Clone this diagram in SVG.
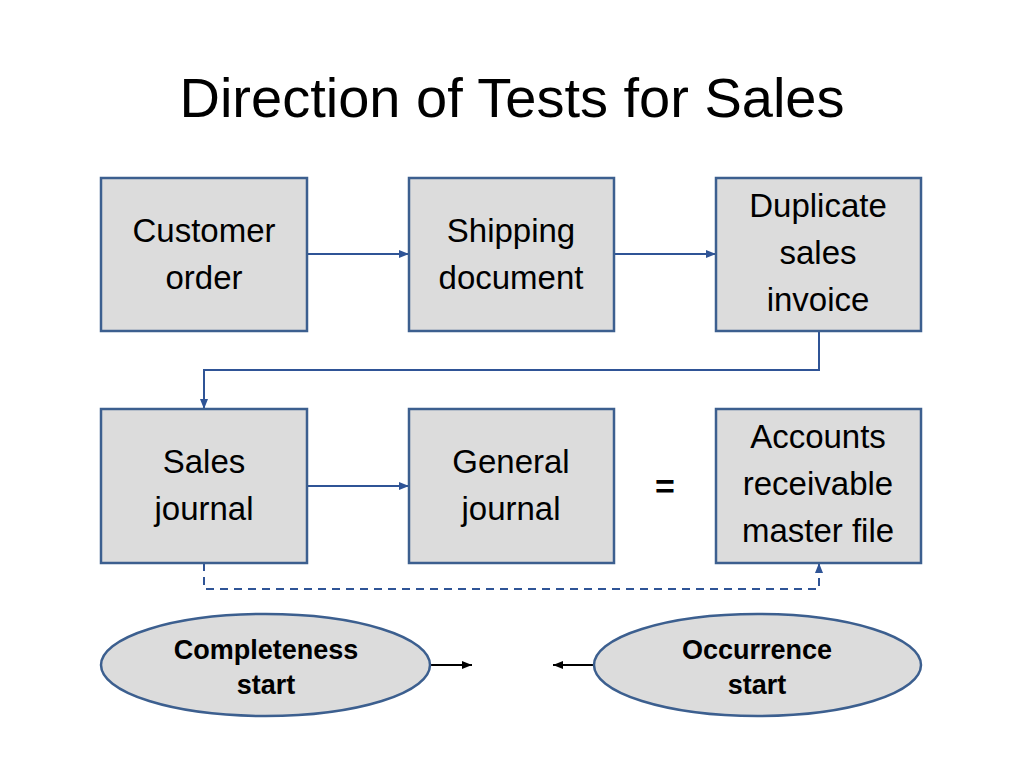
<svg xmlns="http://www.w3.org/2000/svg" width="1024" height="768" viewBox="0 0 1024 768">
<defs>
<style>
.box{fill:#dcdcdc;stroke:#3c5f8f;stroke-width:2.5}
.t{font-family:"Liberation Sans",Arial,sans-serif;font-size:33px;fill:#000;text-anchor:middle}
.b{font-family:"Liberation Sans",Arial,sans-serif;font-size:27px;font-weight:bold;fill:#000;text-anchor:middle}
.c{fill:none;stroke:#2f5496;stroke-width:2}
.k{fill:none;stroke:#000;stroke-width:2}
</style>
<marker id="ab" viewBox="0 0 10 10" refX="10" refY="5" markerWidth="5" markerHeight="5" orient="auto"><path d="M0,1 L10,5 L0,9 z" fill="#2f5496"/></marker>
<marker id="ak" viewBox="0 0 10 10" refX="10" refY="5" markerWidth="5" markerHeight="5" orient="auto"><path d="M0,1 L10,5 L0,9 z" fill="#000"/></marker>
</defs>
<rect width="1024" height="768" fill="#fff"/>
<text x="512" y="117" font-family="Liberation Sans,Arial,sans-serif" font-size="56" text-anchor="middle">Direction of Tests for Sales</text>

<g id="connectors">
<line class="c" x1="307" y1="254" x2="409" y2="254" marker-end="url(#ab)"/>
<line class="c" x1="614" y1="254" x2="716" y2="254" marker-end="url(#ab)"/>
<polyline class="c" points="819,331 819,370 204,370 204,409" marker-end="url(#ab)"/>
<line class="c" x1="307" y1="486" x2="409" y2="486" marker-end="url(#ab)"/>
<polyline class="c" points="204,563 204,589 819,589 819,563" stroke-dasharray="8,6" marker-end="url(#ab)"/>
<line class="k" x1="430" y1="665" x2="472" y2="665" marker-end="url(#ak)"/>
<line class="k" x1="594" y1="665" x2="553" y2="665" marker-end="url(#ak)"/>
</g>

<g id="customer-order">
<rect class="box" x="101" y="178" width="206" height="153"/>
<text class="t" x="204" y="242">Customer</text>
<text class="t" x="204" y="289">order</text>
</g>
<g id="shipping-document">
<rect class="box" x="409" y="178" width="205" height="153"/>
<text class="t" x="511" y="242">Shipping</text>
<text class="t" x="511" y="289">document</text>
</g>
<g id="duplicate-sales-invoice">
<rect class="box" x="716" y="178" width="205" height="153"/>
<text class="t" x="818" y="217">Duplicate</text>
<text class="t" x="818" y="264">sales</text>
<text class="t" x="818" y="311">invoice</text>
</g>
<g id="sales-journal">
<rect class="box" x="101" y="409" width="206" height="154"/>
<text class="t" x="204" y="473">Sales</text>
<text class="t" x="204" y="520">journal</text>
</g>
<g id="general-journal">
<rect class="box" x="409" y="409" width="205" height="154"/>
<text class="t" x="511" y="473">General</text>
<text class="t" x="511" y="520">journal</text>
</g>
<g id="equals">
<text x="665" y="498" font-family="Liberation Sans,Arial,sans-serif" font-size="34" font-weight="bold" text-anchor="middle">=</text>
</g>
<g id="ar-master-file">
<rect class="box" x="716" y="409" width="205" height="154"/>
<text class="t" x="818" y="448">Accounts</text>
<text class="t" x="818" y="495">receivable</text>
<text class="t" x="818" y="542">master file</text>
</g>
<g id="completeness-start">
<ellipse class="box" cx="265.5" cy="665" rx="164.5" ry="51"/>
<text class="b" x="266" y="659">Completeness</text>
<text class="b" x="266" y="694">start</text>
</g>
<g id="occurrence-start">
<ellipse class="box" cx="757.5" cy="665" rx="163.5" ry="51"/>
<text class="b" x="757" y="659">Occurrence</text>
<text class="b" x="757" y="694">start</text>
</g>
</svg>
